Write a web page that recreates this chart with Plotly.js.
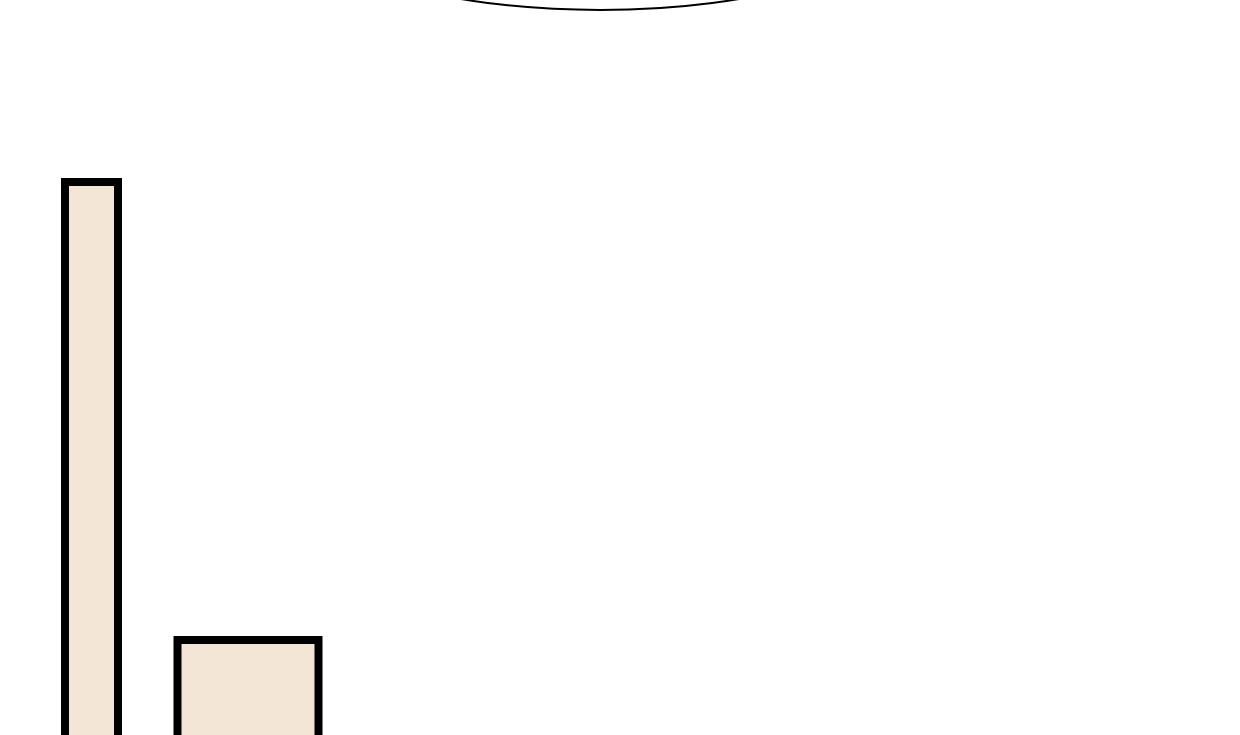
<!DOCTYPE html>
<html>
<head>
<meta charset="utf-8">
<script src="https://cdn.plot.ly/plotly-3.0.1.min.js"></script>
<style>
  html, body { margin: 0; padding: 0; background: #fff; }
  #chart { width: 1240px; height: 735px; }
</style>
</head>
<body>
<div id="chart"></div>
<script>
// Bars (centre, width, height)
const barX = [9.15, 24.8];
const barWidth = [5.3, 14.1];
const barY = [56.3, 10.5];

// Ellipse outline partly visible at the top edge: [x0, x1] and [y0, y1]
const ellipseX = [29.5, 90.5];
const ellipseY = [73.5, 93.5];

const trace = {
    type: 'bar',
    x: barX,
    y: barY,
    width: barWidth,
    marker: {
        color: '#F3E6D6',
        line: { color: '#000000', width: 8 }
    },
    hoverinfo: 'skip'
};

const layout = {
    width: 1240,
    height: 735,
    margin: { l: 0, r: 0, t: 0, b: 0 },
    paper_bgcolor: '#ffffff',
    plot_bgcolor: '#ffffff',
    showlegend: false,
    xaxis: { range: [0, 124], visible: false, fixedrange: true },
    yaxis: { range: [1, 74.5], visible: false, fixedrange: true },
    shapes: [{
        type: 'circle',
        xref: 'x', yref: 'y',
        x0: ellipseX[0], x1: ellipseX[1],
        y0: ellipseY[0], y1: ellipseY[1],
        line: { color: '#000000', width: 2 },
        fillcolor: 'rgba(0,0,0,0)'
    }]
};

Plotly.newPlot('chart', [trace], layout, { displayModeBar: false, staticPlot: true });
</script>
</body>
</html>
